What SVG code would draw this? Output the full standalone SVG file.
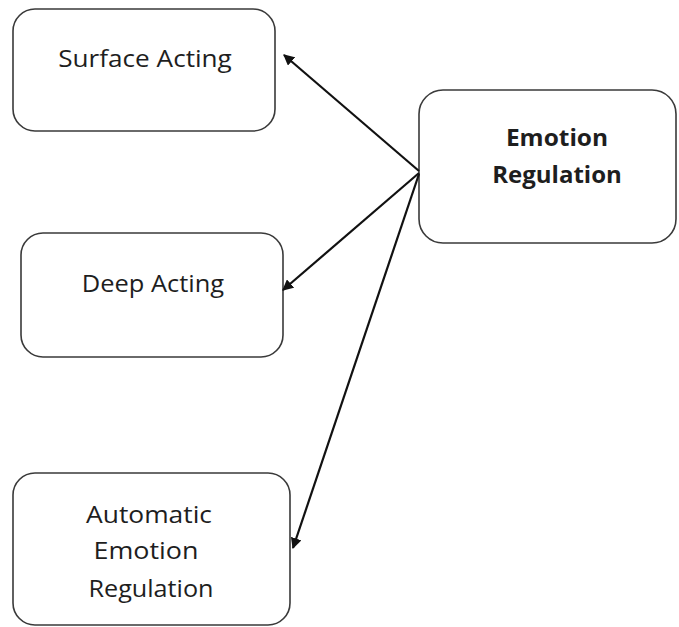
<svg xmlns="http://www.w3.org/2000/svg" width="679" height="627" viewBox="0 0 679 627">
<defs>
<style>
.box{fill:#fff;stroke:#3a3a3a;stroke-width:1.6}
.t{font-family:"Open Sans","Liberation Sans",sans-serif;font-size:24px;fill:#1e1e1e;text-anchor:middle}
.b{font-weight:bold}
.c{stroke:#111;stroke-width:2.2;fill:none}
</style>
<marker id="ah" viewBox="0 0 10 10" refX="9" refY="5" markerWidth="5" markerHeight="5" orient="auto" markerUnits="strokeWidth">
<path d="M0,0 L10,5 L0,10 z" fill="#111"/>
</marker>
</defs>
<rect width="679" height="627" fill="#fff"/>
<g id="surface-acting">
<rect class="box" x="13" y="9" width="262" height="122" rx="22"/>
<text class="t" transform="translate(145,67) scale(1.09,1)">Surface Acting</text>
</g>
<g id="emotion-regulation">
<rect class="box" x="419" y="90" width="257" height="153" rx="24"/>
<text class="t b" transform="translate(557,146) scale(1.02,1)">Emotion</text>
<text class="t b" transform="translate(557,183)">Regulation</text>
</g>
<g id="deep-acting">
<rect class="box" x="21" y="233" width="262" height="124" rx="22"/>
<text class="t" transform="translate(153,292) scale(1.06,1)">Deep Acting</text>
</g>
<g id="automatic-emotion-regulation">
<rect class="box" x="13" y="473" width="277" height="152" rx="22"/>
<text class="t" transform="translate(149,523) scale(1.1,1)">Automatic</text>
<text class="t" transform="translate(146,559) scale(1.12,1)">Emotion</text>
<text class="t" transform="translate(151,597) scale(1.05,1)">Regulation</text>
</g>
<g id="connectors">
<line class="c" x1="419" y1="171" x2="284" y2="55" marker-end="url(#ah)"/>
<line class="c" x1="419" y1="173" x2="283" y2="290" marker-end="url(#ah)"/>
<line class="c" x1="419" y1="174" x2="293" y2="548" marker-end="url(#ah)"/>
</g>
</svg>
